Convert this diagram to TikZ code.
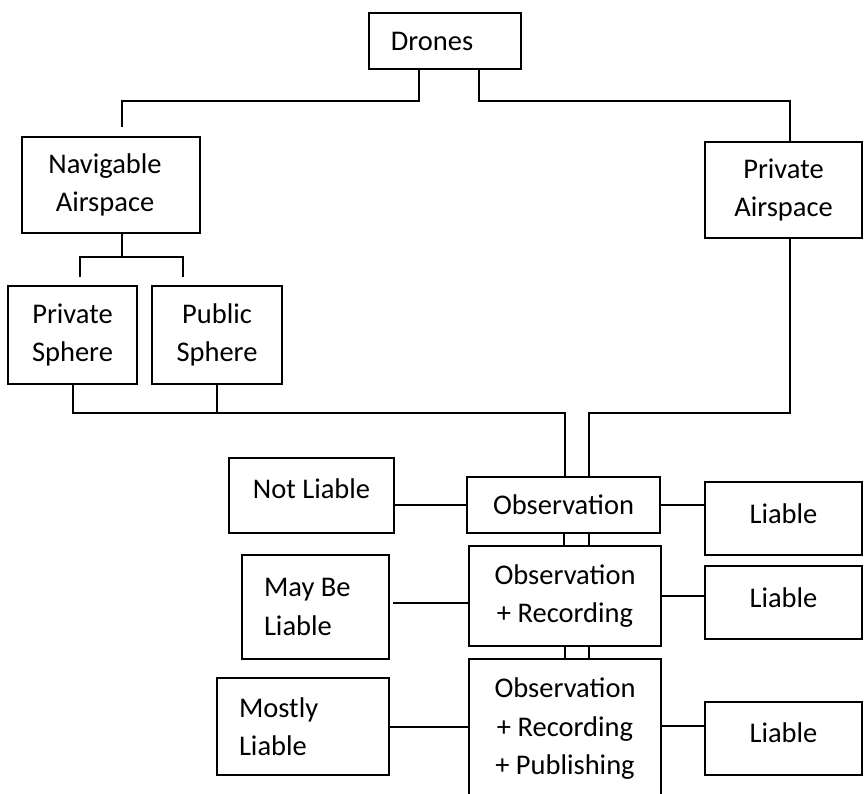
\documentclass[tikz,border=0pt]{standalone}
\usepackage{fontspec}
\setmainfont{Carlito}
\newcommand{\liftby}[2]{\raisebox{#1}[\height][\depth]{#2}}
\begin{document}
\begin{tikzpicture}[x=1pt,y=-1pt,
  box/.style={draw=black,line width=2.4pt,inner sep=0pt,outer sep=0pt,align=center,
    font=\fontsize{28.5}{38.5}\selectfont},
  wire/.style={draw=black,line width=1.2pt}]
\useasboundingbox (0,0) rectangle (864,793);
% boxes
\node[box,minimum width=152pt,minimum height=56pt] (drones) at (445,41) {\hspace*{-26pt}Drones};
\node[box,minimum width=178pt,minimum height=96pt] (nav) at (111,185) {\hspace*{-12pt}Navigable\\\hspace*{-12pt}Airspace};
\node[box,minimum width=157pt,minimum height=96pt] (pair) at (783.5,190) {Private\\Airspace};
\node[box,minimum width=129pt,minimum height=98pt] (ps) at (72.5,335) {Private\\Sphere};
\node[box,minimum width=130pt,minimum height=98pt] (pub) at (217,335) {Public\\Sphere};
\node[box,minimum width=193pt,minimum height=56pt] (obs) at (563.5,505) {Observation};
\node[box,minimum width=165pt,minimum height=75pt] (notl) at (311.5,495.5) {\liftby{7pt}{Not Liable}};
\node[box,minimum width=157pt,minimum height=73pt] (l1) at (783.5,518.5) {\liftby{5pt}{Liable}};
\node[box,minimum width=192pt,minimum height=100pt] (obsrec) at (565,596) {Observation\\+ Recording};
\node[box,minimum width=147pt,minimum height=104pt,text width=103pt,align=flush left] (maybe) at (315.5,607) {May Be\\Liable};
\node[box,minimum width=157pt,minimum height=73pt] (l2) at (783.5,602.5) {\liftby{5pt}{Liable}};
\node[box,minimum width=192pt,minimum height=140pt] (orp) at (565,729) {Observation\\+ Recording\\+ Publishing};
\node[box,minimum width=172pt,minimum height=97pt,text width=128pt,align=flush left] (mostly) at (303,726.5) {Mostly\\Liable};
\node[box,minimum width=157pt,minimum height=73pt] (l3) at (783.5,738.5) {\liftby{6pt}{Liable}};
% free ends
\coordinate (navend) at (122,127);
\coordinate (psend) at (80,277);
\coordinate (pubend) at (183,277);
% Drones branches
\draw[wire] (419,0 |- drones.south) -- (419,101) -- (122,101) -- (navend);
\draw[wire] (479,0 |- drones.south) -- (479,101) -- (790,101) -- (790,0 |- pair.north);
% Navigable to spheres
\draw[wire] (122,0 |- nav.south) -- (122,257);
\draw[wire] (psend) -- (80,257) -- (183,257) -- (pubend);
% spheres to observation
\draw[wire] (73,0 |- ps.south) -- (73,413) -- (565,413) -- (565,0 |- obs.north);
\draw[wire] (217,0 |- pub.south) -- (217,413);
\draw[wire] (790,0 |- pair.south) -- (790,413) -- (589,413) -- (589,0 |- obs.north);
% observation row
\draw[wire] (notl.east |- 0,505) -- (obs.west |- 0,505);
\draw[wire] (obs.east |- 0,505) -- (l1.west |- 0,505);
\draw[wire] (564,0 |- obs.south) -- (564,0 |- obsrec.north);
\draw[wire] (589,0 |- obs.south) -- (589,0 |- obsrec.north);
% observation + recording row
\draw[wire] (393,603) -- (obsrec.west |- 0,603);
\draw[wire] (obsrec.east |- 0,596) -- (l2.west |- 0,596);
\draw[wire] (565,0 |- obsrec.south) -- (565,0 |- orp.north);
\draw[wire] (589,0 |- obsrec.south) -- (589,0 |- orp.north);
% publishing row
\draw[wire] (mostly.east |- 0,727) -- (orp.west |- 0,727);
\draw[wire] (orp.east |- 0,726) -- (l3.west |- 0,726);
\end{tikzpicture}
\end{document}
